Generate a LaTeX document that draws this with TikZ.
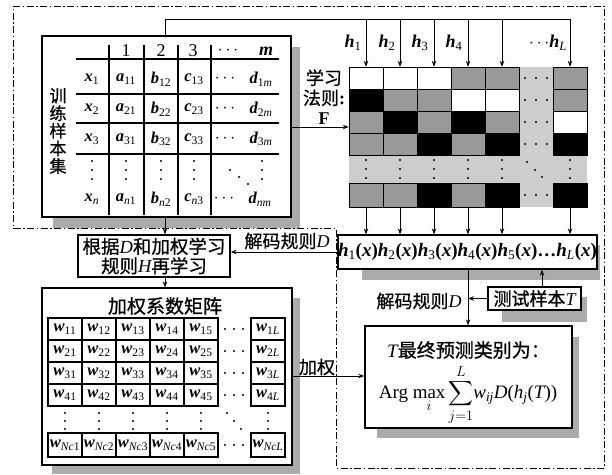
\documentclass[tikz,border=0pt]{standalone}
\usepackage{exscale}
\usepackage{fontspec}
\setmainfont{Liberation Serif}
\newfontfamily\cjk{Noto Sans CJK SC}[FakeBold=0.8]
\usetikzlibrary{arrows.meta}
\newcommand\bv[1]{{\bfseries\itshape #1}}
\newcommand\iv[1]{{\normalfont\itshape #1}}
\newcommand\sbs[1]{\textsubscript{\normalfont #1}}
\newcommand\hx[1]{\bv{h}\sbs{#1}\textbf{(}\bv{x}\textbf{)}}
\definecolor{cellgray}{HTML}{999999}
\definecolor{lightg}{HTML}{CDCDCD}
\definecolor{shadowg}{HTML}{ABABAB}
\begin{document}
\begin{tikzpicture}[x=1pt,y=-1pt,
  box/.style={draw, line width=1.3pt, fill=white, inner sep=0pt},
  arr/.style={-{Stealth[length=6pt,width=4.5pt]}, line width=0.9pt},
  ddash/.style={line width=1pt, dash pattern=on 7pt off 2.5pt on 1.5pt off 2.5pt},
  zh/.style={font=\cjk\fontsize{18}{21}\selectfont, inner sep=1pt},
  lat/.style={font=\fontsize{16.5}{18}\selectfont, inner sep=0pt},
  hdr/.style={font=\fontsize{18}{20}\selectfont, inner sep=0pt},
  cell/.style={draw, line width=1pt},
  invis/.style={inner sep=0pt}]
\useasboundingbox (0,0) rectangle (612,474);

% shadows
\fill[shadowg] (53,47) rectangle (300,228);
\fill[shadowg] (52,298) rectangle (300,474);
\fill[shadowg] (362,245) rectangle (600,280);
\fill[shadowg] (502,297) rectangle (587,322);
\fill[shadowg] (377,337) rectangle (579,438);

% dash-dot outline
\draw[ddash] (13,6) -- (604,6) -- (604,468) -- (336,468) -- (336,228) -- (13,228) -- cycle;

% training sample box
\node[box, minimum width=249pt, minimum height=181pt] (train) at (166.5,126.5) {};
\node[font=\cjk\fontsize{17}{17.6}\selectfont, align=center, inner sep=0pt] (trlab) at (58,131) {训\\练\\样\\本\\集};
\foreach \x in {109,144,178,211} \draw[line width=1.2pt] (\x,45) -- (\x,215);
\foreach \y in {59,94,123,154} \draw[line width=1.2pt] (76,\y) -- (279,\y);
\node[hdr] (hd1) at (126,51) {1};
\node[hdr] (hd2) at (161,51) {2};
\node[hdr] (hd3) at (193,51) {3};
\node[lat] (hd4) at (228,51) {$\cdots$};
\node[hdr] (hd5) at (266,51) {\bv{m}};
\foreach \r/\y in {1/79,2/109,3/139}{
  \node[lat] (tx\r) at (92,\y) {\bv{x}\sbs{\r}};
  \node[lat] (ta\r) at (126,\y) {\bv{a}\sbs{\r1}};
  \node[lat] (tb\r) at (161,\y) {\bv{b}\sbs{\r2}};
  \node[lat] (tc\r) at (194,\y) {\bv{c}\sbs{\r3}};
  \node[lat] (tdots\r) at (225,\y) {$\cdots$};
  \node[lat] (td\r) at (261,\y) {\bv{d}\sbs{\r\iv{m}}};
}
\foreach \x in {92,126,161,194,262} \foreach \y in {161,170,179} \fill (\x,\y) circle (1.1pt);
\fill (230,170) circle (1.1pt); \fill (239,177) circle (1.1pt); \fill (248,184) circle (1.1pt);
\node[lat] (txn) at (92,199) {\bv{x}\sbs{\iv{n}}};
\node[lat] (tan) at (126,199) {\bv{a}\sbs{\iv{n}1}};
\node[lat] (tbn) at (161,199) {\bv{b}\sbs{\iv{n}2}};
\node[lat] (tcn) at (194,199) {\bv{c}\sbs{\iv{n}3}};
\node[lat] (tdotsn) at (224,199) {$\cdots$};
\node[lat] (tdn) at (260,199) {\bv{d}\sbs{\iv{nm}}};

% learning grid
\node[invis, minimum width=238pt, minimum height=140pt] (grid) at (468,137) {};
\fill[lightg] (519,67) rectangle (553,207);
\fill[lightg] (349,155) rectangle (587,183);
\foreach \cols/\y/\h in {{white,white,white,cellgray,cellgray,cellgray}/67/22,
                         {black,cellgray,cellgray,white,white,cellgray}/89/22,
                         {cellgray,black,cellgray,black,cellgray,white}/111/22,
                         {cellgray,cellgray,black,cellgray,black,black}/133/22,
                         {cellgray,cellgray,black,cellgray,black,black}/183/24}{
  \foreach \c [count=\i from 0] in \cols {
    \pgfmathsetmacro\xx{\i<5 ? 349+34*\i : 553}
    \draw[cell, fill=\c] (\xx,\y) rectangle ++(34,\h);
  }
  \foreach \x in {525,536,547} \fill (\x,\y+\h/2) circle (1.1pt);
}
\foreach \x in {366,400,434,468,502,570} \foreach \y in {160,169,178} \fill (\x,\y) circle (1.1pt);
\fill (527,162) circle (1.1pt); \fill (535,170) circle (1.1pt); \fill (542,177) circle (1.1pt);

% top distribution line
\coordinate (tl0) at (165,19);
\coordinate (tl1) at (570,19);
\draw[line width=1pt] (train.north -| tl0) -- (tl0) -- (tl1);
\foreach \x in {366,400,434,468,502,570} \draw[arr] (\x,19) -- (grid.north -| \x,0);
\node[hdr] (h1) at (353,43) {\bv{h}\sbs{1}};
\node[hdr] (h2) at (387,43) {\bv{h}\sbs{2}};
\node[hdr] (h3) at (420,43) {\bv{h}\sbs{3}};
\node[hdr] (h4) at (454,43) {\bv{h}\sbs{4}};
\node[hdr] (hL) at (548,43) {$\cdots$\bv{h}\sbs{\iv{L}}};
\node[zh, align=center, font=\cjk\fontsize{18}{20}\selectfont] (rule) at (324,97) {学习\\法则{\normalfont\bfseries :}\\{\normalfont\bfseries F}};
\draw[arr] (train.east |- 0,127) -- (grid.west |- 0,127);

% h(x) box
\node[box, minimum width=255pt, minimum height=34pt, font=\fontsize{19}{21}\selectfont] (hbox) at (467.5,252)
  {\hx{1}\hx{2}\hx{3}\hx{4}\hx{5}\textbf{\ldots}\hx{\iv{L}}};
\foreach \x in {366,400,434,468,502,570} \draw[arr] (grid.south -| \x,0) -- (hbox.north -| \x,0);

% relearn box
\node[box, minimum width=152pt, minimum height=42pt, align=center, font=\cjk\fontsize{18.5}{19.5}\selectfont] (relearn) at (154,256)
  {根据\iv{D}和加权学习\\规则\iv{H}再学习};
\draw[arr] (hbox.west) -- (relearn.east |- hbox.west);
\node[zh] (dec1) at (287,241) {解码规则\iv{D}};
\draw[arr] (train.south -| tl0) -- (relearn.north -| tl0);

% weight matrix
\node[box, minimum width=250pt, minimum height=177pt] (weight) at (167,376.5) {};
\draw[arr] (relearn.south -| tl0) -- (weight.north -| tl0);
\node[font=\cjk\fontsize{19}{21}\selectfont, inner sep=0pt] (wtitle) at (165,306) {加权系数矩阵};
\foreach \r/\y in {1/318,2/340,3/362,4/384}{
  \foreach \c in {1,...,5}{
    \pgfmathsetmacro\xx{48+34*(\c-1)}
    \draw[cell, line width=1.2pt] (\xx,\y) rectangle ++(34,22);
    \node[lat] (w\r\c) at (\xx+17,\y+11) {\bv{w}\sbs{\r\c}};
  }
  \draw[cell, line width=1.2pt] (251,\y) rectangle ++(34,22);
  \node[lat] (w\r L) at (268,\y+11) {\bv{w}\sbs{\r\iv{L}}};
  \foreach \x in {225,234,243} \fill (\x,\y+11) circle (1.1pt);
}
\foreach \c in {1,...,5}{
  \pgfmathsetmacro\xx{48+34*(\c-1)}
  \draw[cell, line width=1.2pt] (\xx,433) rectangle ++(34,24);
  \node[lat] (wN\c) at (\xx+17,445) {\bv{w}\sbs{\iv{Nc}\c}};
}
\draw[cell, line width=1.2pt] (251,433) rectangle ++(34,24);
\node[lat] (wNL) at (268,445) {\bv{w}\sbs{\iv{NcL}}};
\foreach \x in {225,234,243} \fill (\x,445) circle (1.1pt);
\foreach \x in {65,99,133,167,201,268} \foreach \y in {413,421,429} \fill (\x,\y) circle (1.1pt);
\fill (227,413) circle (1.1pt); \fill (234,421) circle (1.1pt); \fill (241,429) circle (1.1pt);

% test box and final box
\node[box, minimum width=93pt, minimum height=23pt, font=\cjk\fontsize{18}{20}\selectfont] (test) at (534.5,298.5) {测试样本\iv{T}};
\node[box, minimum width=207pt, minimum height=102pt] (final) at (468.5,377) {};
\node[zh, font=\cjk\fontsize{19}{21}\selectfont] (ftitle) at (468.5,350) {\iv{T}最终预测类别为：};
\node[font=\fontsize{19}{21}\selectfont, inner sep=0pt] (formula) at (468,395)
  {Arg $\displaystyle\max_{i}\sum_{j=1}^{L}$\iv{w}\sbs{\iv{ij}}\iv{D}(\iv{h}\sbs{\iv{j}}(\iv{T}))};
\coordinate (vl) at (468,0);
\draw[arr] (hbox.south -| vl) -- (final.north -| vl);
\draw[arr] (test.west) -- (test.west -| vl);
\draw[arr] (test.north -| 542,0) -- (hbox.south -| 542,0);
\node[zh] (dec2) at (419,301) {解码规则\iv{D}};
\node[zh] (jq) at (317,367) {加权};
\draw[arr] (weight.east |- 0,376) -- (final.west |- 0,376);
\end{tikzpicture}
\end{document}
